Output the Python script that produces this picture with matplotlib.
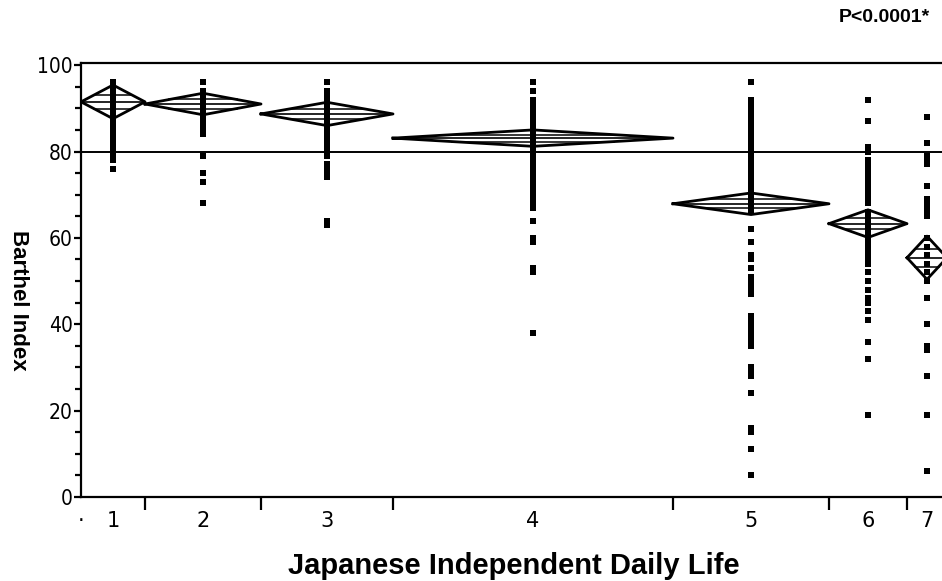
import numpy as np
import matplotlib
matplotlib.use("Agg")
from matplotlib import pyplot as plt

# 分组标签和每组样本量（JMP里组宽按样本量）
group_labels = ["1", "2", "3", "4", "5", "6", "7"]
group_n = [32, 58, 66, 140, 78, 39, 20]
# 均值菱形：均值 和 95%置信区间半宽
group_mean = [91.5, 91.0, 88.7, 83.1, 67.9, 63.3, 55.4]
group_ci = [3.9, 2.5, 2.7, 1.9, 2.5, 3.2, 5.0]
grand_mean = 80.0

# 每组的散点（Barthel Index）
g1 = [96, 95, 94, 93, 92, 91, 90, 89, 88, 87, 86, 85, 84, 83, 82, 81, 80, 79, 78, 76]
g2 = [96, 94, 93, 92, 91, 90, 89, 88, 87, 86, 85, 84, 79, 75, 73, 68]
g3 = [96, 94, 93, 92, 91, 90, 89, 88, 87, 86, 85, 84, 83, 82, 81, 80, 79, 77, 76, 75, 74, 64, 63]
g4 = [96, 94, 92, 91, 90, 89, 88, 87, 86, 85, 84, 83, 82, 81, 80, 79, 78, 77, 76, 75, 74, 73,
      72, 71, 70, 69, 68, 67, 64, 60, 59, 53, 52, 38]
g5 = [96, 92, 91, 90, 89, 88, 87, 86, 85, 84, 83, 82, 81, 80, 79, 78, 77, 76, 75, 74, 73, 72,
      71, 70, 69, 68, 67, 66, 62, 59, 56, 55, 53, 51, 50, 49, 48, 47, 42, 41, 40, 39, 38, 37,
      36, 35, 30, 29, 28, 24, 16, 15, 11, 5]
g6 = [92, 87, 81, 80, 78, 77, 76, 75, 74, 73, 72, 71, 70, 69, 68, 66, 65, 64, 63, 62, 61, 60,
      59, 58, 57, 56, 55, 54, 52, 50, 48, 46, 45, 43, 41, 36, 32, 19]
g7 = [88, 82, 79, 78, 77, 72, 69, 68, 67, 66, 65, 60, 58, 56, 54, 52, 50, 46, 40, 35, 34, 28, 19, 6]
points = [g1, g2, g3, g4, g5, g6, g7]

fig = plt.figure(figsize=(9.42, 5.81), dpi=100)
ax = fig.add_axes([0.086, 0.1446, 0.983, 0.747])

edges = np.concatenate([[0], np.cumsum(group_n)])
centers = (edges[:-1] + edges[1:]) / 2

for i in range(len(group_n)):
    x0, x1, xc = edges[i], edges[i + 1], centers[i]
    m, h = group_mean[i], group_ci[i]
    # 散点
    ax.plot(np.full(len(points[i]), xc), points[i], "s", ms=3.8, color="black", mew=0)
    # 菱形
    ax.plot([x0, xc, x1, xc, x0], [m, m + h, m, m - h, m], color="black", lw=2.0)
    ax.plot([x0, x1], [m, m], color="black", lw=1.2)
    # overlap marks
    d = h * 0.42
    w = (x1 - x0) / 2 * (1 - 0.42)
    for s in (1, -1):
        ax.plot([xc - w, xc + w], [m + s * d, m + s * d], color="black", lw=1.1)

ax.axhline(grand_mean, color="black", lw=1.4)

ax.set_xlim(0, edges[-1] + 30)
ax.set_ylim(0, 100.5)

# y轴刻度
ax.set_yticks([0, 20, 40, 60, 80, 100])
ax.set_yticks(np.arange(0, 101, 5), minor=True)
ax.tick_params(axis="y", which="major", direction="out", length=5, width=1.6, pad=1)
ax.tick_params(axis="y", which="minor", direction="out", length=4, width=1.6)
for t in ax.get_yticklabels():
    t.set_family("DejaVu Sans")
    t.set_fontstretch("condensed")
    t.set_fontsize(15)

# x轴：组边界画刻度，组中心写标签
ax.set_xticks(edges[1:])
ax.set_xticklabels([])
ax.set_xticks(np.concatenate([[0], centers]), minor=True)
ax.set_xticklabels(["·"] + group_labels, minor=True, fontsize=15, family="DejaVu Sans")
ax.tick_params(axis="x", which="major", direction="out", length=9, width=1.6)
ax.tick_params(axis="x", which="minor", length=0, pad=10)

for side in ["left", "bottom", "top"]:
    ax.spines[side].set_linewidth(1.6)
ax.spines["right"].set_visible(False)

fig.text(514 / 942, 1 - 566 / 581, "Japanese Independent Daily Life", ha="center", va="center",
         fontsize=21, fontweight="bold", family="Liberation Sans")
fig.text(18 / 942, 1 - 300 / 581, "Barthel Index", rotation=270, ha="center", va="center",
         fontsize=16, fontweight="bold", family="Liberation Sans")
fig.text(930 / 942, 1 - 17 / 581, "P<0.0001*", ha="right", va="center",
         fontsize=14, fontweight="bold", family="Liberation Sans")

fig.savefig("out.png", dpi=100)
